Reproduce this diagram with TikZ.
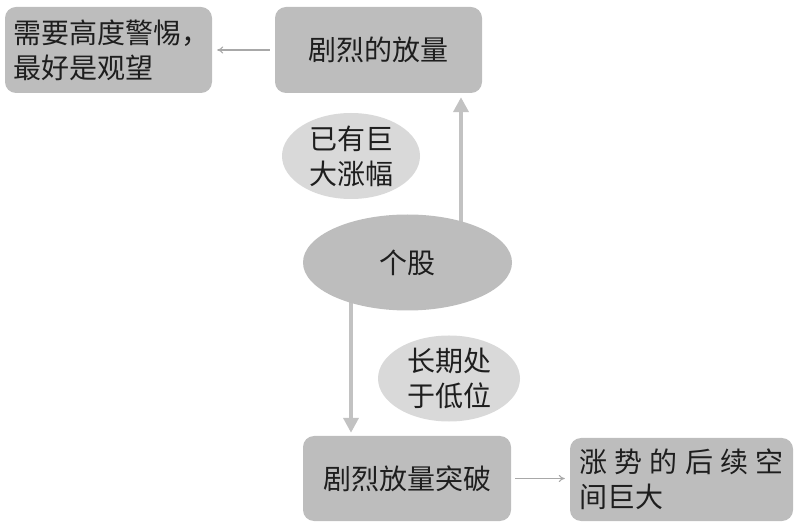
\documentclass[tikz,border=0pt]{standalone}
\usepackage{fontspec}
\newfontfamily\cjk{Noto Sans CJK SC}
\usetikzlibrary{shapes.geometric,arrows.meta}
\definecolor{boxgray}{HTML}{BDBDBD}
\definecolor{tipgray}{HTML}{D9D9D9}
\definecolor{biggray}{HTML}{C2C2C2}
\definecolor{thingray}{HTML}{A8A8A8}
\definecolor{inkgray}{HTML}{1E1E1E}
\begin{document}
\begin{tikzpicture}[x=1pt,y=-1pt,
    every node/.style={font=\cjk\fontsize{28pt}{35pt}\selectfont,text=inkgray,inner sep=0pt},
    stepbox/.style={shape=rectangle,fill=boxgray,rounded corners=11pt,minimum width=207pt,minimum height=86pt},
    tipoval/.style={shape=ellipse,fill=tipgray,minimum width=140pt,minimum height=84pt,align=center},
    bigarrow/.style={draw=biggray,line width=4.5pt,-{Triangle[width=15pt,length=15pt]}},
    thinarrow/.style={draw=thingray,line width=1.1pt,-{To[length=6pt,width=7pt]}}]
    \useasboundingbox (0,0) rectangle (798,526);
    % boxes
    \node[stepbox,align=left,text width=191pt] (A) at (108.5,50) {需要高度警惕，\\最好是观望};
    \node[stepbox] (B) at (378.5,50) {剧烈的放量};
    \node[stepbox,minimum width=208pt,minimum height=85pt] (C) at (407,478.5) {剧烈放量突破};
    \node[stepbox,minimum width=223pt,minimum height=83pt,align=left,text width=205pt] (D) at (681.5,479.5)
        {\makebox[205pt][s]{涨\hfill 势\hfill 的\hfill 后\hfill 续\hfill 空}\\间巨大};
    % ovals
    \node[tipoval,minimum width=138pt,minimum height=86pt] (T1) at (351,156) {已有巨\\大涨幅};
    \node[tipoval,minimum width=142pt,minimum height=83pt] (T2) at (449,378.5) {长期处\\于低位};
    \coordinate (upfoot) at (461,230);
    \coordinate (downfoot) at (351,295);
    \path (upfoot) edge[bigarrow,shorten >=4pt] (upfoot |- B.south);
    \path (downfoot) edge[bigarrow,shorten >=3pt] (downfoot |- C.north);
    \node[shape=ellipse,fill=boxgray,minimum width=209pt,minimum height=96pt] (S) at (407.5,262.5) {个股};
    % thin links
    \path (B.west) edge[thinarrow,shorten <=5pt,shorten >=5pt] (A.east);
    \path (C.east) edge[thinarrow,shorten <=4pt,shorten >=5pt] (C.east -| D.west);
\end{tikzpicture}
\end{document}
